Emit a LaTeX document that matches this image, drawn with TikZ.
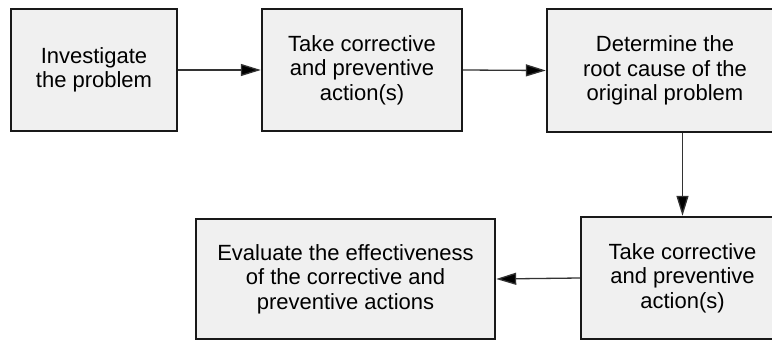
\documentclass[tikz,border=0pt]{standalone}
\usepackage{fontspec}
\setmainfont{Liberation Sans}
\usetikzlibrary{arrows.meta}
\definecolor{boxfill}{HTML}{F0F0F0}
\definecolor{linkgray}{HTML}{333333}
\tikzset{
  stepbox/.style={draw=black!90, line width=2.4pt, fill=boxfill, align=center,
    inner sep=0pt, font=\fontsize{22pt}{24.5pt}\selectfont},
  link/.style={draw=linkgray, line width=1.3pt,
    -{Triangle[length=20pt,width=12pt,fill=black]}}
}
\begin{document}
\begin{tikzpicture}[x=1pt,y=-1pt]
  \useasboundingbox[fill=white] (0,0) rectangle (772,342);
  % top row
  \node[stepbox, minimum width=166pt, minimum height=122pt] (inv) at (94,70)
    {Investigate\\the problem};
  \node[stepbox, minimum width=200pt, minimum height=122pt] (act1) at (362,70)
    {Take corrective\\and preventive\\action(s)};
  \node[stepbox, minimum width=236pt, minimum height=123pt] (root) at (665,70.5)
    {Determine the\\root cause of the\\original problem};
  % bottom row
  \node[stepbox, minimum width=203pt, minimum height=122pt] (act2) at (682.5,278)
    {Take corrective\\and preventive\\action(s)};
  \node[stepbox, minimum width=299pt, minimum height=120pt] (eval) at (345.5,279)
    {Evaluate the effectiveness\\of the corrective and\\preventive actions};
  % connectors
  \draw[link] (inv.east) -- (act1.west);
  \draw[link] (act1.east) -- (root.west);
  \draw[link] (act2.north |- root.south) -- (act2.north);
  \draw[link] (act2.west) -- (eval.east);
\end{tikzpicture}
\end{document}
